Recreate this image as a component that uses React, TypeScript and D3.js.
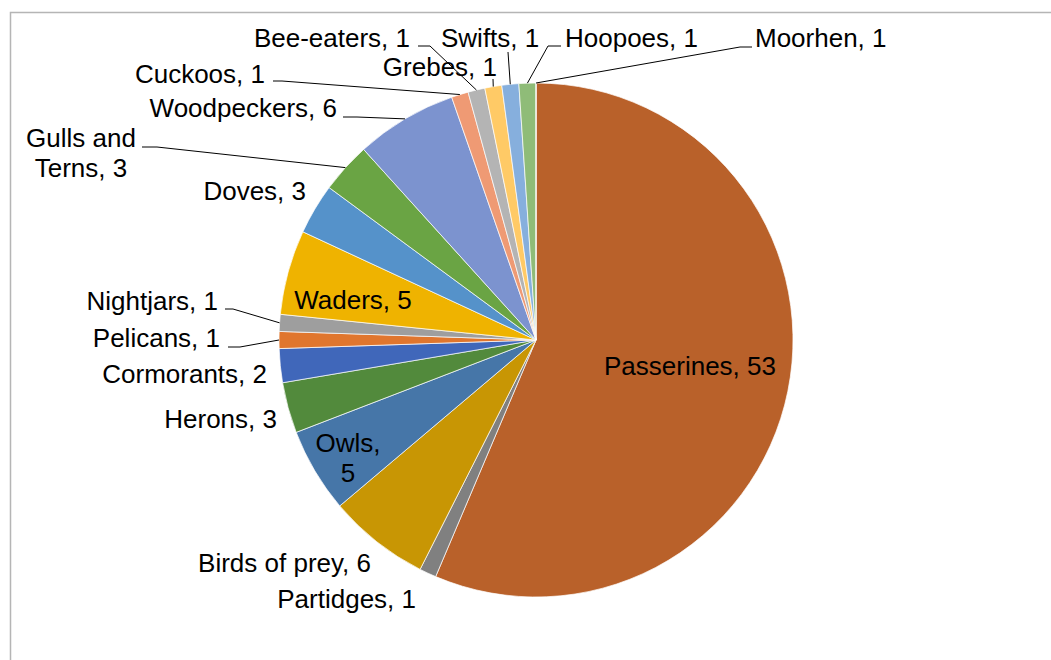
import React from "react";
import * as d3 from "d3";

const categories = [
  "Passerines", "Partidges", "Birds of prey", "Owls", "Herons", "Cormorants",
  "Pelicans", "Nightjars", "Waders", "Doves", "Gulls and Terns", "Woodpeckers",
  "Cuckoos", "Bee-eaters", "Grebes", "Swifts", "Hoopoes", "Moorhen",
];
// counts shown in the data labels
const labelCounts = [53, 1, 6, 5, 3, 2, 1, 1, 5, 3, 3, 6, 1, 1, 1, 1, 1, 1];
// slice sizes as drawn (the Moorhen slice has no visible width in the picture)
const sliceValues = [53, 1, 6, 5, 3, 2, 1, 1, 5, 3, 3, 6, 1, 1, 1, 1, 1, 0];
const colors = [
  "#B9612A", "#808080", "#C89604", "#4676A8", "#528A3C", "#4067BA",
  "#E0762E", "#9E9E9E", "#EFB300", "#5592CA", "#6AA444", "#7C93CF",
  "#EF9A74", "#B4B4B4", "#FFCA66", "#86AFDD", "#8FBC78", "#A9D18E",
];

// label layout: lines (multi-line text), x, baseline y, anchor, leader start/elbow
type L = { lines?: string[]; x: number; y: number; anchor: string; leader?: [number, number][] };
const layout: L[] = [
  { x: 690, y: 375, anchor: "middle" }, // Passerines (inside)
  { x: 416, y: 608, anchor: "end" }, // Partidges
  { x: 371, y: 572, anchor: "end" }, // Birds of prey
  { lines: ["Owls,", "5"], x: 348, y: 452, anchor: "middle" }, // Owls (inside)
  { x: 277, y: 428, anchor: "end" }, // Herons
  { x: 267, y: 383, anchor: "end" }, // Cormorants
  { x: 220, y: 347, anchor: "end", leader: [[228, 347], [240, 347]] }, // Pelicans
  { x: 218, y: 310, anchor: "end", leader: [[225, 309], [233, 309]] }, // Nightjars
  { x: 353, y: 309, anchor: "middle" }, // Waders (inside)
  { x: 306, y: 200, anchor: "end" }, // Doves
  { lines: ["Gulls and", "Terns, 3"], x: 81, y: 147, anchor: "middle", leader: [[142, 147], [157, 147]] },
  { x: 337, y: 117, anchor: "end", leader: [[343, 117], [357, 117]] }, // Woodpeckers
  { x: 265, y: 83, anchor: "end", leader: [[273, 81], [282, 81]] }, // Cuckoos
  { x: 410, y: 47, anchor: "end", leader: [[418, 46], [430, 46]] }, // Bee-eaters
  { x: 497, y: 76, anchor: "end", leader: [[493, 79]] }, // Grebes
  { x: 441, y: 47, anchor: "start", leader: [[508, 52]] }, // Swifts
  { x: 565, y: 47, anchor: "start", leader: [[561, 46], [548, 46]] }, // Hoopoes
  { x: 755, y: 47, anchor: "start", leader: [[752, 47], [740, 47]] }, // Moorhen
];

const W = 1051;
const H = 660;
const cx = 536;
const cy = 340;
const R = 257;

export default function App() {
  const pie = d3.pie<number>().sort(null).value((d) => d);
  const arcs = pie(sliceValues);
  const arc = d3.arc<d3.PieArcDatum<number>>().innerRadius(0).outerRadius(R);
  const font = "'Liberation Sans', Arial, sans-serif";

  return (
    <svg
      width={W}
      height={H}
      style={{ position: "absolute", left: 0, top: 0, background: "#fff" }}
    >
      <rect x={10.5} y={12.5} width={W + 20} height={H + 20} fill="#fff" stroke="#B5B5B5" strokeWidth={1.5} />
      <g transform={`translate(${cx},${cy})`}>
        {arcs.map((a, i) => (
          <path key={i} d={arc(a) || ""} fill={colors[i]} stroke="#fff" strokeWidth={0.7} />
        ))}
      </g>
      {arcs.map((a, i) => {
        const L = layout[i];
        if (!L.leader) return null;
        const mid = (a.startAngle + a.endAngle) / 2;
        const ex = cx + R * Math.sin(mid);
        const ey = cy - R * Math.cos(mid);
        const pts = [...L.leader, [ex, ey]] as [number, number][];
        return (
          <polyline
            key={"l" + i}
            points={pts.map((p) => p.join(",")).join(" ")}
            fill="none"
            stroke="#000"
            strokeWidth={1}
          />
        );
      })}
      {categories.map((c, i) => {
        const L = layout[i];
        const lines = L.lines ?? [`${c}, ${labelCounts[i]}`];
        return (
          <text
            key={"t" + i}
            x={L.x}
            y={L.y}
            textAnchor={L.anchor as any}
            fontFamily={font}
            fontSize={26}
            fill="#000"
          >
            {lines.map((ln, j) => (
              <tspan key={j} x={L.x} dy={j === 0 ? 0 : 30}>
                {ln}
              </tspan>
            ))}
          </text>
        );
      })}
    </svg>
  );
}
